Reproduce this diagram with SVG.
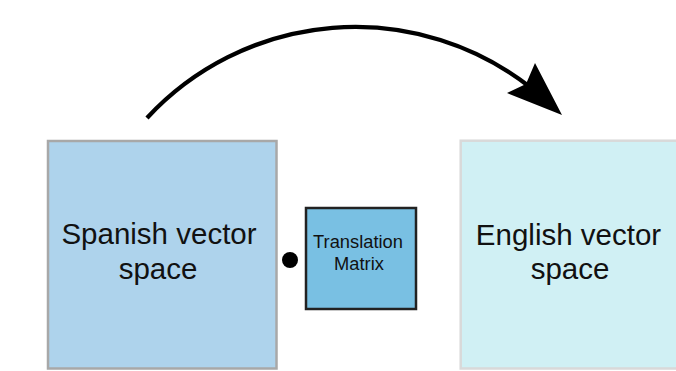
<svg xmlns="http://www.w3.org/2000/svg" width="676" height="371" viewBox="0 0 676 371">
<style>
.lbl{font-family:"Liberation Sans",Arial,sans-serif;fill:#111;text-anchor:middle}
.big{font-size:29.5px}
.small{font-size:18.3px}
</style>
<rect width="676" height="371" fill="#fff"/>
<g id="spanish">
<rect x="48" y="141" width="228.5" height="227.5" fill="#aed3ec" stroke="#a8a8a8" stroke-width="2.5"/>
<text class="lbl big" x="159" y="244">Spanish vector</text>
<text class="lbl big" x="158" y="278.5">space</text>
</g>
<g id="dot">
<circle cx="290" cy="260" r="8" fill="#000"/>
</g>
<g id="matrix">
<rect x="306" y="208" width="110" height="101" fill="#79c0e3" stroke="#222" stroke-width="2.5"/>
<text class="lbl small" x="358" y="248">Translation</text>
<text class="lbl small" x="359" y="269.5">Matrix</text>
</g>
<g id="english">
<rect x="460.7" y="140.7" width="240" height="227.8" fill="#d0f0f4" stroke="#d9d9d9" stroke-width="2.5"/>
<text class="lbl big" x="568.5" y="245">English vector</text>
<text class="lbl big" x="570" y="279">space</text>
</g>
<g id="connectors">
<path d="M147,118 A284,284 0 0 1 530,87" fill="none" stroke="#000" stroke-width="4.3"/>
<polygon points="562,115 535,63 526,84 507,93" fill="#000"/>
</g>
</svg>
